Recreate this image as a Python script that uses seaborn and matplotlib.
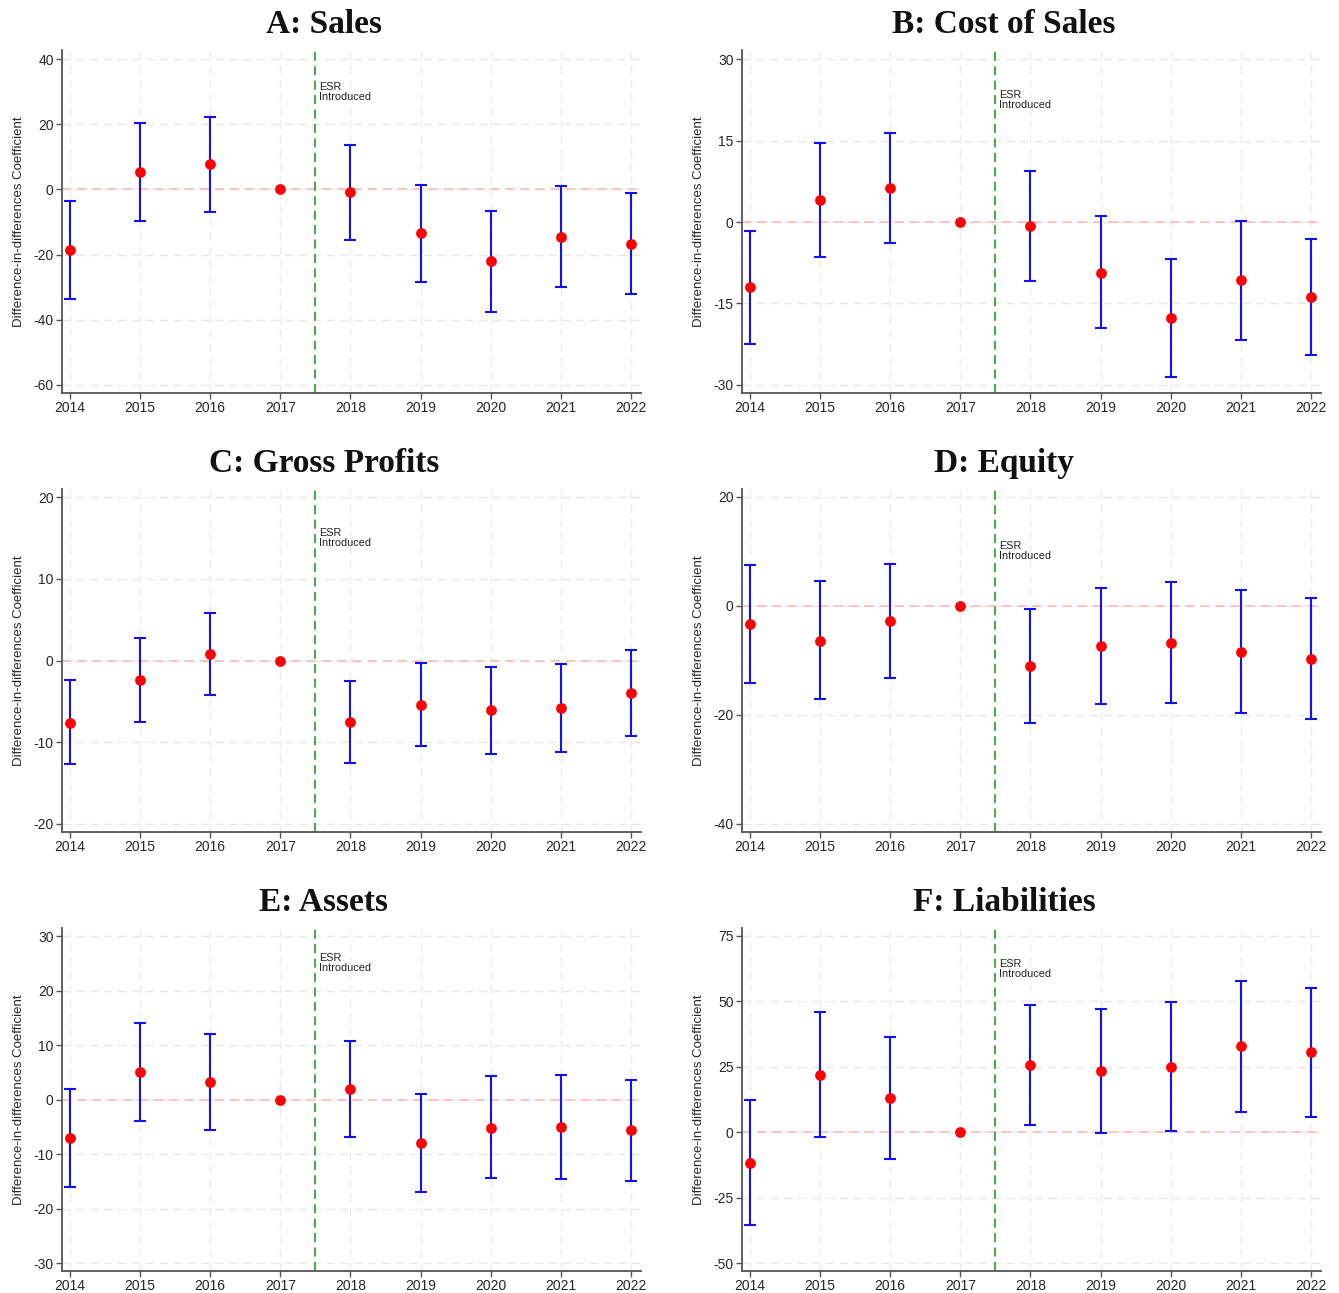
import numpy as np
import pandas as pd
import matplotlib
matplotlib.use("Agg")
import matplotlib.pyplot as plt
import seaborn as sns

years = [2014, 2015, 2016, 2017, 2018, 2019, 2020, 2021, 2022]

titles = ["A: Sales", "B: Cost of Sales", "C: Gross Profits",
          "D: Equity", "E: Assets", "F: Liabilities"]

# coefficient estimates
coef_a = [-18.6, 5.2, 7.8, 0.0, -0.9, -13.5, -22.0, -14.5, -16.7]
coef_b = [-12.0, 4.1, 6.3, 0.0, -0.7, -9.3, -17.7, -10.7, -13.8]
coef_c = [-7.6, -2.4, 0.8, 0.0, -7.5, -5.4, -6.1, -5.8, -4.0]
coef_d = [-3.4, -6.4, -2.8, 0.0, -11.1, -7.3, -6.8, -8.4, -9.7]
coef_e = [-7.0, 5.1, 3.2, 0.0, 2.0, -8.0, -5.1, -5.0, -5.6]
coef_f = [-11.6, 21.9, 13.0, 0.0, 25.5, 23.3, 25.1, 32.8, 30.6]

# upper confidence bounds (nan = no interval)
upper_a = [-3.6, 20.3, 22.2, np.nan, 13.6, 1.3, -6.5, 1.1, -1.2]
upper_b = [-1.6, 14.5, 16.4, np.nan, 9.4, 1.1, -6.9, 0.2, -3.1]
upper_c = [-2.4, 2.8, 5.8, np.nan, -2.5, -0.3, -0.8, -0.4, 1.3]
upper_d = [7.5, 4.5, 7.7, np.nan, -0.6, 3.3, 4.3, 2.9, 1.5]
upper_e = [2.0, 14.1, 12.0, np.nan, 10.7, 1.0, 4.3, 4.5, 3.7]
upper_f = [12.2, 45.8, 36.2, np.nan, 48.6, 46.9, 49.7, 57.7, 55.2]

# lower confidence bounds
lower_a = [-33.6, -9.8, -6.8, np.nan, -15.5, -28.4, -37.6, -30.1, -32.0]
lower_b = [-22.4, -6.4, -3.8, np.nan, -10.8, -19.6, -28.5, -21.7, -24.5]
lower_c = [-12.7, -7.5, -4.2, np.nan, -12.5, -10.5, -11.5, -11.2, -9.3]
lower_d = [-14.1, -17.1, -13.3, np.nan, -21.5, -18.1, -17.9, -19.7, -20.8]
lower_e = [-16.0, -3.9, -5.6, np.nan, -6.8, -17.0, -14.4, -14.5, -14.9]
lower_f = [-35.3, -1.9, -10.1, np.nan, 2.6, -0.3, 0.6, 7.8, 6.0]

yticks_a = [-60, -40, -20, 0, 20, 40]
yticks_b = [-30, -15, 0, 15, 30]
yticks_c = [-20, -10, 0, 10, 20]
yticks_d = [-40, -20, 0, 20]
yticks_e = [-30, -20, -10, 0, 10, 20, 30]
yticks_f = [-50, -25, 0, 25, 50, 75]

ylims = [(-62.5, 42.8), (-31.5, 31.7), (-21.0, 21.0),
         (-41.5, 21.4), (-31.4, 31.5), (-53.0, 78.0)]
esr_y = [29.9, 22.5, 15.0, 10.0, 25.0, 62.4]

event_year = 2017.5
ylabel = "Difference-in-differences Coefficient"

coefs = [coef_a, coef_b, coef_c, coef_d, coef_e, coef_f]
uppers = [upper_a, upper_b, upper_c, upper_d, upper_e, upper_f]
lowers = [lower_a, lower_b, lower_c, lower_d, lower_e, lower_f]
yticks = [yticks_a, yticks_b, yticks_c, yticks_d, yticks_e, yticks_f]

sns.set_theme(style="white")
plt.rcParams['font.family'] = ['Liberation Sans', 'DejaVu Sans']

W, H = 1339, 1293
fig = plt.figure(figsize=(W / 100, H / 100), dpi=100)

col_left = [62, 742]
row_top = [50, 489, 928]
ax_w, ax_h = 579, 343

for i in range(6):
    r, c = divmod(i, 2)
    left = col_left[c] / W
    bottom = 1 - (row_top[r] + ax_h) / H
    ax = fig.add_axes([left, bottom, ax_w / W, ax_h / H])

    df = pd.DataFrame({"year": years, "coef": coefs[i],
                       "upper": uppers[i], "lower": lowers[i]})
    ci = df.dropna()

    ax.set_xlim(2013.886, 2022.143)
    ax.set_ylim(*ylims[i])

    # grid
    for yv in yticks[i]:
        ax.axhline(yv, color="#e8e8e8", lw=1.0, ls=(0, (6, 4)), zorder=0)
    for xv in years:
        ax.axvline(xv, color="#ececec", lw=1.0, ls=(0, (6, 4)), zorder=0)

    ax.axhline(0, color="#ffb4b4", lw=1.1, ls=(0, (6, 4)), zorder=1)
    ax.axvline(event_year, color="#2ea82e", lw=1.3, ls=(0, (5, 3)), zorder=2)

    ax.errorbar(ci["year"], ci["coef"],
                yerr=[ci["coef"] - ci["lower"], ci["upper"] - ci["coef"]],
                fmt="none", ecolor="#1010ff", elinewidth=1.5, capsize=4.5,
                capthick=1.5, zorder=3)
    sns.scatterplot(data=df, x="year", y="coef", ax=ax, color="#ff0000",
                    s=60, edgecolor="#ff0000", linewidth=0, zorder=4)

    ax.text(event_year + 0.055, esr_y[i], "ESR\nIntroduced", fontsize=7.8,
            va="center", ha="left", color="#222222", linespacing=1.0)

    ax.set_xticks(years)
    ax.set_xticklabels([str(y) for y in years], fontsize=10)
    ax.set_yticks(yticks[i])
    ax.set_yticklabels([str(v) for v in yticks[i]], fontsize=10)
    ax.set_xlabel("")
    ax.set_ylabel(ylabel, fontsize=9.5, labelpad=6)
    ax.tick_params(axis="both", which="both", length=4, width=1.0,
                   color="#555555", pad=2, left=True, bottom=True)
    for s in ["top", "right"]:
        ax.spines[s].set_visible(False)
    for s in ["left", "bottom"]:
        ax.spines[s].set_color("#555555")
        ax.spines[s].set_linewidth(1.3)

    ax.set_title(titles[i], fontsize=24, fontweight="bold",
                 family=["Liberation Serif", "DejaVu Serif"],
                 x=0.4525, y=1.0, pad=12.5, color="#111111")

fig.savefig("out.png", dpi=100)
